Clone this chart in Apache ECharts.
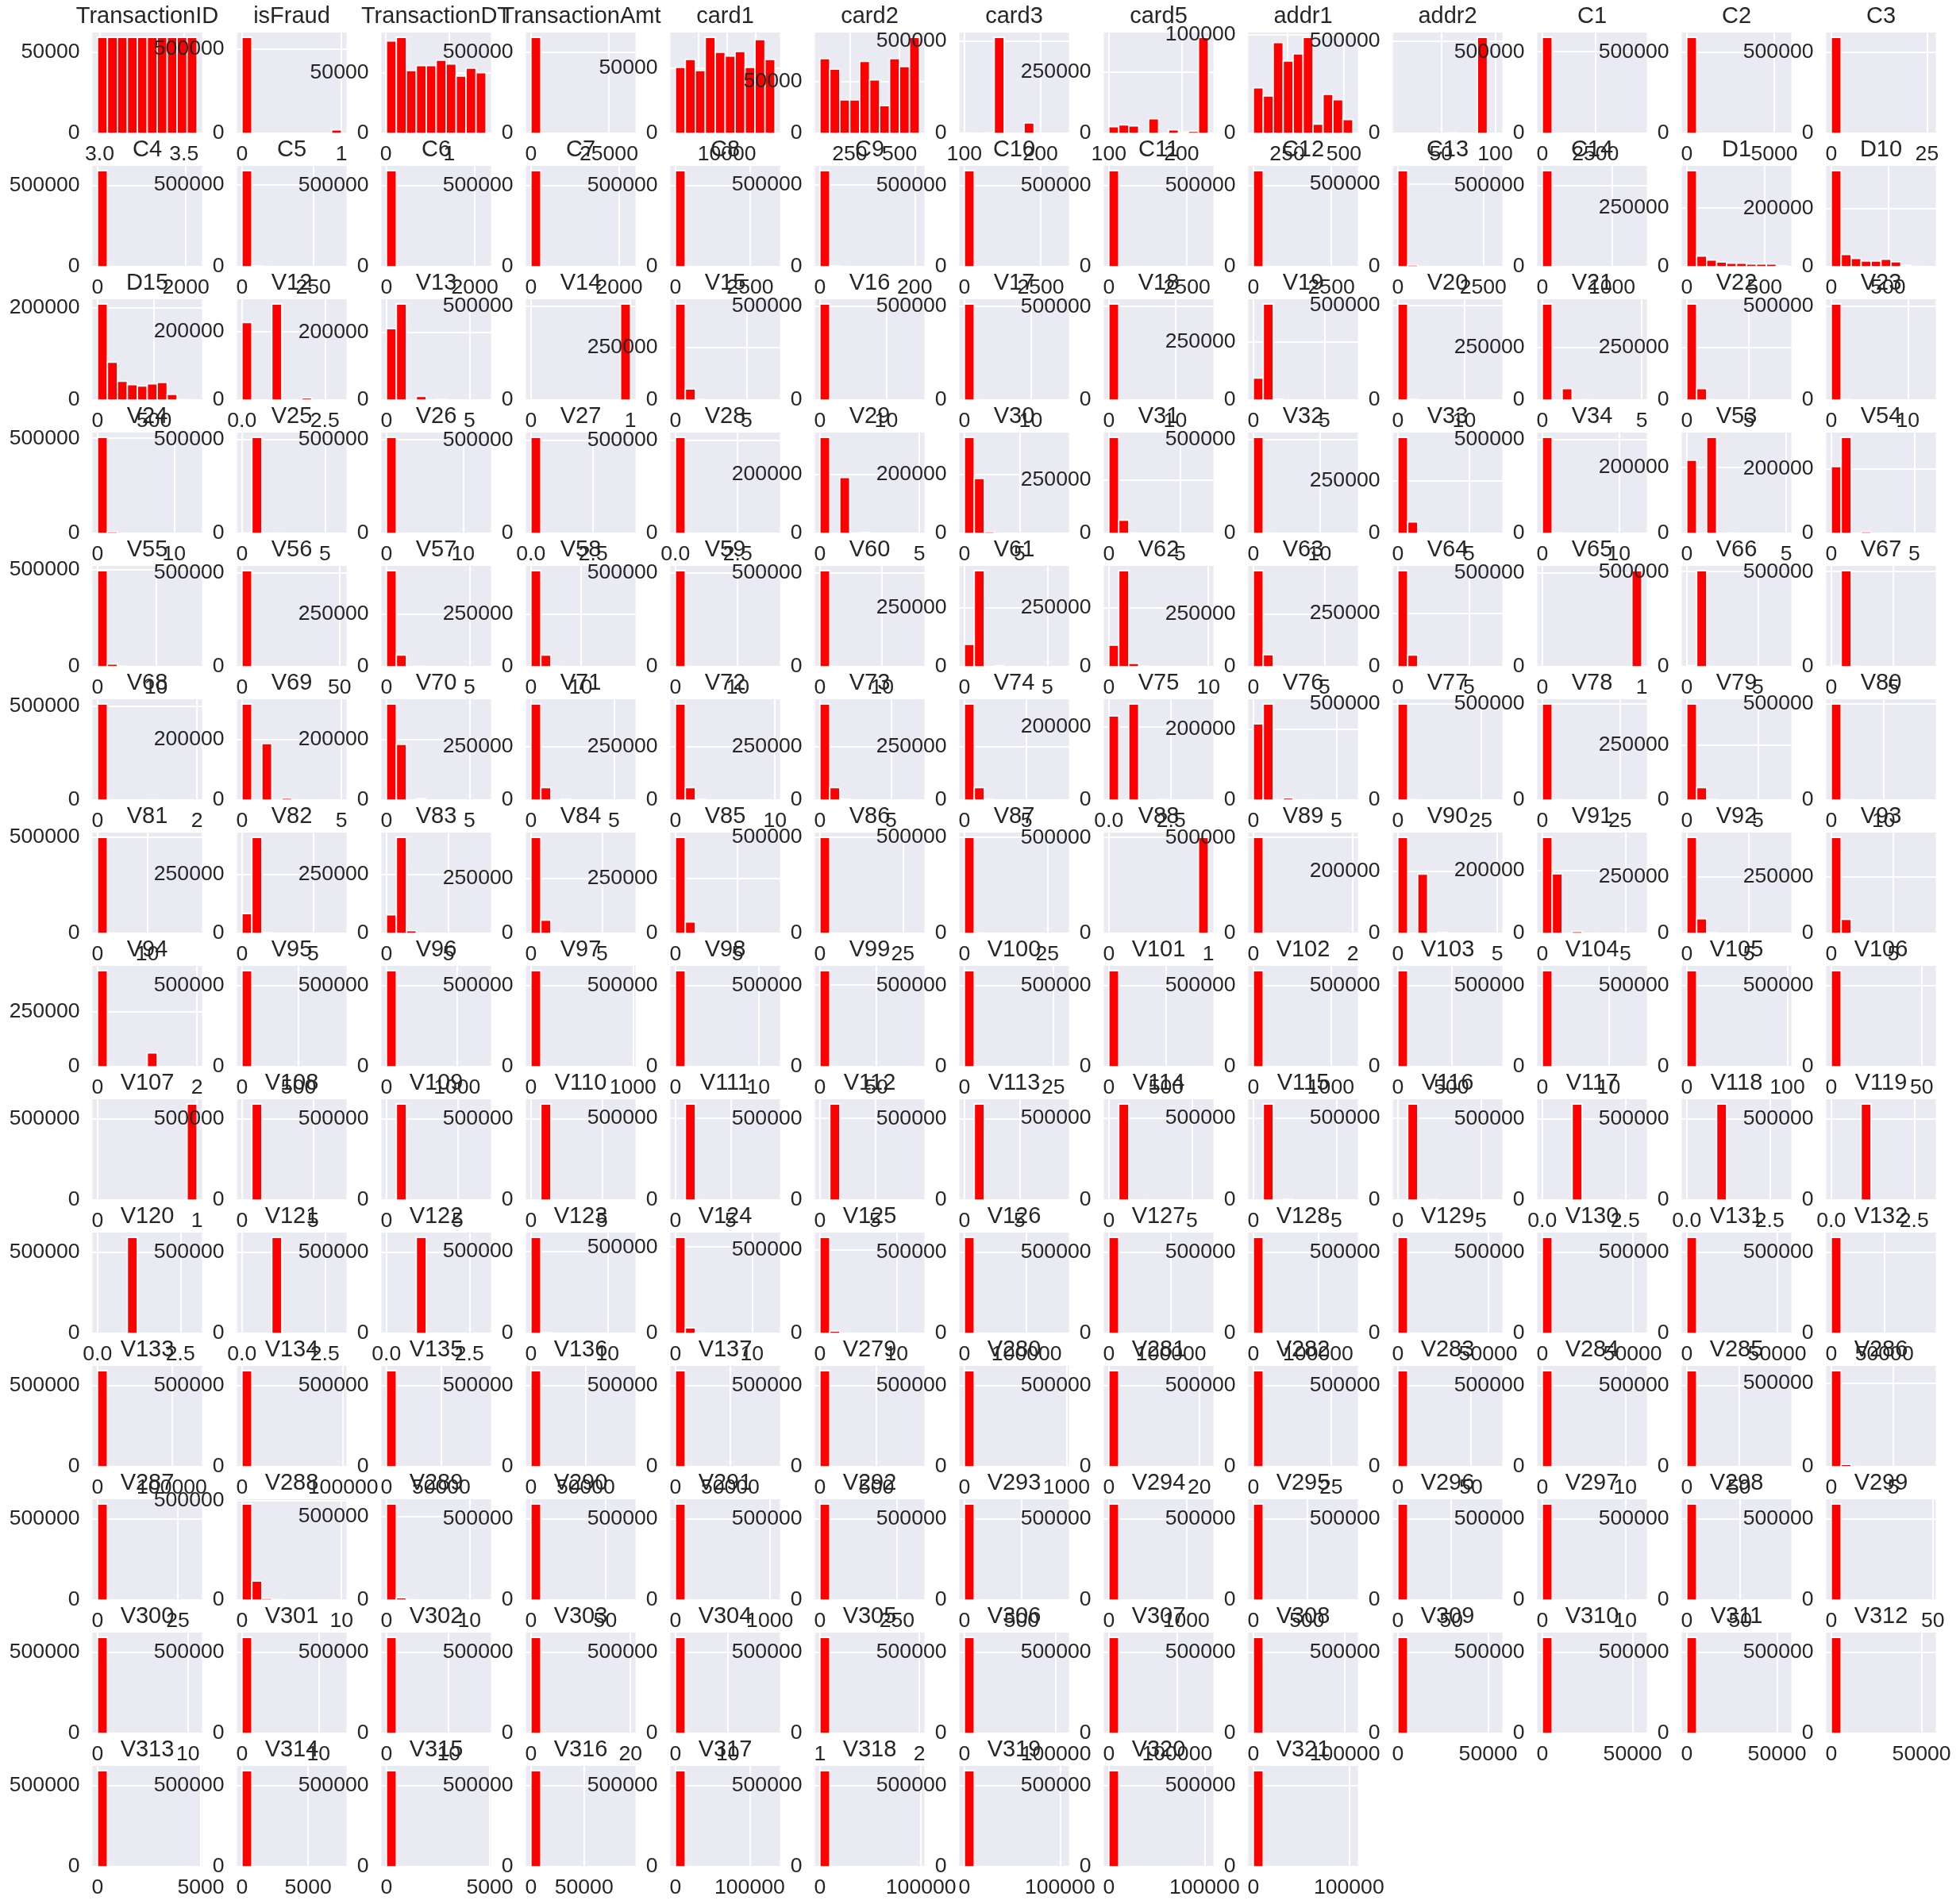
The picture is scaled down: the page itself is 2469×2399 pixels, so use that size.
<!DOCTYPE html>
<html>
<head>
<meta charset="utf-8">
<script src="https://cdn.jsdelivr.net/npm/echarts@6/dist/echarts.min.js"></script>
<style>
html,body{margin:0;padding:0;background:#ffffff;}
#chart{width:2469px;height:2399px;}
</style>
</head>
<body>
<div id="chart"></div>
<script>
// ---------------- DATA ----------------
const names = [
 "TransactionID","isFraud","TransactionDT","TransactionAmt","card1","card2","card3","card5","addr1","addr2","C1","C2","C3",
 "C4","C5","C6","C7","C8","C9","C10","C11","C12","C13","C14","D1","D10",
 "D15","V12","V13","V14","V15","V16","V17","V18","V19","V20","V21","V22","V23",
 "V24","V25","V26","V27","V28","V29","V30","V31","V32","V33","V34","V53","V54",
 "V55","V56","V57","V58","V59","V60","V61","V62","V63","V64","V65","V66","V67",
 "V68","V69","V70","V71","V72","V73","V74","V75","V76","V77","V78","V79","V80",
 "V81","V82","V83","V84","V85","V86","V87","V88","V89","V90","V91","V92","V93",
 "V94","V95","V96","V97","V98","V99","V100","V101","V102","V103","V104","V105","V106",
 "V107","V108","V109","V110","V111","V112","V113","V114","V115","V116","V117","V118","V119",
 "V120","V121","V122","V123","V124","V125","V126","V127","V128","V129","V130","V131","V132",
 "V133","V134","V135","V136","V137","V279","V280","V281","V282","V283","V284","V285","V286",
 "V287","V288","V289","V290","V291","V292","V293","V294","V295","V296","V297","V298","V299",
 "V300","V301","V302","V303","V304","V305","V306","V307","V308","V309","V310","V311","V312",
 "V313","V314","V315","V316","V317","V318","V319","V320","V321"
];

// data range (min, max) of each column, in the units shown on its x axis
const xRanges = [
 [2.987,3.577539],[0,1],[0.00864,1.5811131],[0.251,31937.391],[1000,18396],[100,600],[100,231],[100,237],[100,540],[10,102],[0,4685],[0,5691],[0,26],
 [0,2253],[0,349],[0,2253],[0,2255],[0,3331],[0,210],[0,3257],[0,3188],[0,3188],[0,2918],[0,1429],[0,640],[0,876],
 [0,879],[0,3],[0,6],[0,1],[0,7],[0,15],[0,15],[0,15],[0,7],[0,15],[0,5],[0,8],[0,13],
 [0,13],[0,6],[0,13],[0,4],[0,4],[0,5],[0,9],[0,7],[0,15],[0,7],[0,13],[0,5],[0,6],
 [0,17],[0,51],[0,6],[0,20],[0,16],[0,16],[0,6],[0,10],[0,7],[0,7],[0,1],[0,7],[0,8],
 [0,2],[0,5],[0,6],[0,6],[0,10],[0,7],[0,8],[0,4],[0,6],[0,30],[0,32],[0,7],[0,19],
 [0,20],[0,7],[0,8],[0,7],[0,8],[0,30],[0,30],[0,1],[0,2],[0,5],[0,6],[0,8],[0,8],
 [0,2],[0,880],[0,1410],[0,976],[0,12],[0,88],[0,28],[0,869],[0,1285],[0,928],[0,15],[0,99],[0,55],
 [0,1],[0,7],[0,7],[0,7],[0,9],[0,9],[0,9],[0,6],[0,6],[0,6],[0,3],[0,3],[0,3],
 [0,3],[0,3],[0,3],[0,13],[0,13],[0,13],[0,160000],[0,160000],[0,153600],[0,55125],[0,55125],[0,55125],[0,93736],
 [0,133915],[0,98476],[0,90750],[0,90750],[0,90750],[0,880],[0,975],[0,22],[0,32],[0,68],[0,12],[0,95],[0,8],
 [0,31],[0,10],[0,12],[0,67],[0,1055],[0,323],[0,869],[0,1286],[0,928],[0,93],[0,12],[0,93],[0,49],
 [0,11],[0,13],[0,16],[0,20],[0,19],[1,2],[0,108800],[0,145765],[0,108800],[0,55125],[0,55125],[0,55125],[0,55125],
 [0,4817.5],[0,7519.9],[0,4817.5],[0,93736],[0,134021],[0,98476],[0,104060],[0,104060],[0,104060]
];

// counts of the 10 histogram bins of each column
const binCounts = [
 [59054,59054,59054,59054,59054,59054,59054,59054,59054,59054],
 [569877,0,0,0,0,0,0,0,0,20663],
 [76550,79610,52050,56210,56210,60580,57520,47460,54020,50330],
 [589900,520,70,25,10,5,4,1,3,2],
 [50400,56500,48000,73400,61900,59100,62500,50400,71600,56500],
 [72165,61965,32385,32385,69615,51765,26775,72165,64515,92820],
 [1700,900,3000,521287,300,400,56346,600,400,40],
 [26700,34200,29900,200,58700,300,13900,5300,8500,389000],
 [46100,37900,91700,73100,80300,97100,9300,39500,33900,13900],
 [200,70,160,10,20,3200,10,30,520600,700],
 [588500,1100,400,200,120,80,60,40,20,20],
 [588900,900,350,150,90,60,40,20,20,10],
 [590400,100,20,10,5,3,0,0,1,1],
 // row 2
 [589600,500,200,100,60,30,20,10,10,10],
 [583000,5000,1500,600,300,100,30,5,3,2],
 [589000,900,300,150,80,50,30,15,10,5],
 [589700,450,200,90,40,30,15,10,5,5],
 [589600,500,200,110,60,30,20,10,5,5],
 [584000,4500,1500,400,100,30,10,3,1,1],
 [589300,700,250,120,70,50,25,15,5,5],
 [588800,1000,400,170,80,50,25,10,3,2],
 [589900,350,150,70,40,20,5,3,1,1],
 [578000,9500,1800,600,300,150,80,50,30,30],
 [589000,1000,300,120,60,30,15,10,3,2],
 [408600,45000,28000,20000,14600,14600,11300,11300,11300,4500],
 [331000,42000,28300,19200,19200,25600,16400,4600,1000,300],
 // row 3
 [208700,82200,40800,33400,30500,35100,38000,12100,1000,500],
 [227000,0,0,281000,0,0,6000,0,0,400],
 [212000,285000,0,11000,0,2000,500,0,200,100],
 [1000,0,0,0,0,0,0,0,0,513000],
 [458000,52000,3000,0,800,300,0,100,20,10],
 [513000,1000,200,50,20,10,5,2,1,1],
 [512500,1300,300,80,30,10,5,2,1,1],
 [513200,900,200,50,20,10,5,2,1,1],
 [94800,414500,4000,0,800,200,0,50,10,5],
 [508000,4500,1000,300,100,40,20,10,5,2],
 [458000,0,54000,0,1500,0,400,0,100,30],
 [458000,54000,1500,0,400,100,0,30,10,5],
 [510000,3000,800,300,100,50,20,10,5,2],
 // row 4
 [505000,9000,300,100,50,20,5,2,1,1],
 [2500,510000,0,1500,0,200,50,0,10,5],
 [513000,1000,200,50,20,5,2,1,1,1],
 [514000,0,0,400,0,0,0,5,0,2],
 [513800,0,0,600,0,0,0,10,0,2],
 [327000,0,190000,0,3000,0,300,0,50,10],
 [327000,187000,5400,500,100,30,10,5,2,1],
 [450000,62000,1500,300,0,100,30,0,10,5],
 [512000,1500,200,50,20,10,5,2,1,1],
 [458000,54000,1500,300,0,100,30,0,5,2],
 [512000,2000,300,50,20,10,5,2,1,1],
 [221700,0,291000,0,1000,0,200,0,30,10],
 [208000,299000,0,5000,0,800,200,0,30,10],
 // row 5
 [495000,13600,3000,800,300,100,50,20,10,5],
 [512000,1200,200,50,20,5,2,1,1,1],
 [456000,55000,0,2000,0,300,50,0,10,5],
 [456000,55000,2000,300,50,10,5,2,1,1],
 [511500,1500,300,80,30,10,5,2,1,1],
 [511800,1300,250,60,20,10,5,2,1,1],
 [94600,409000,0,4500,0,500,100,0,20,10],
 [92000,409000,13500,2000,300,100,30,10,5,2],
 [455000,57000,1500,300,100,30,10,5,2,1],
 [452000,55000,1500,300,100,30,10,5,2,1],
 [600,0,0,0,0,0,0,0,0,512800],
 [6000,505000,1500,300,100,30,10,5,2,1],
 [6000,505000,1800,400,100,30,10,5,2,1],
 // row 6
 [512000,0,0,0,0,1500,0,0,0,10],
 [318000,0,187000,0,6000,0,500,0,50,10],
 [318000,184000,0,4400,0,600,100,0,20,10],
 [450000,58000,0,4000,0,500,100,0,20,5],
 [450000,58000,4000,500,100,30,10,5,2,1],
 [450000,58000,4000,500,100,30,10,5,2,1],
 [450000,58000,4000,500,100,30,10,5,2,1],
 [230000,0,263000,0,0,1500,0,100,0,10],
 [215000,271000,0,6000,0,800,100,0,20,5],
 [498000,2000,500,100,30,10,5,2,1,1],
 [498500,1800,400,80,20,10,5,2,1,1],
 [436000,56000,3000,500,100,30,10,5,2,1],
 [498000,2200,500,100,30,10,5,2,1,1],
 // row 7
 [499000,1500,300,80,20,10,5,2,1,1],
 [84000,409000,3000,300,100,30,10,5,2,1],
 [79000,409000,11000,1000,200,50,20,5,2,1],
 [438000,60000,2500,300,100,30,10,5,2,1],
 [438000,52000,2500,300,100,30,10,5,2,1],
 [499000,1500,300,80,20,10,5,2,1,1],
 [498800,1600,350,90,20,10,5,2,1,1],
 [500,0,0,0,0,0,0,0,0,500800],
 [500800,0,0,0,0,500,0,0,0,10],
 [308000,0,190000,0,3000,0,300,0,50,10],
 [305000,189000,0,6000,0,800,100,0,20,5],
 [426000,64600,3000,500,100,30,10,5,2,1],
 [426000,62000,3000,500,100,30,10,5,2,1],
 // row 8
 [438000,0,0,0,0,63000,0,0,0,100],
 [589000,800,200,100,50,30,20,10,5,5],
 [588600,1100,250,120,60,40,20,10,5,5],
 [589300,600,150,80,40,20,10,5,3,2],
 [589500,500,120,50,20,10,5,2,1,1],
 [588200,1400,400,120,50,20,10,5,2,1],
 [589600,450,100,40,15,8,4,2,1,1],
 [589200,700,170,80,40,20,10,5,3,2],
 [588800,1000,250,110,50,25,12,6,3,2],
 [589300,600,150,80,40,20,10,5,3,2],
 [589700,400,80,25,10,5,2,1,1,1],
 [589000,900,200,70,30,12,6,3,1,1],
 [589800,300,70,25,10,5,2,1,1,1],
 // row 9
 [400,0,0,0,0,0,0,0,0,589800],
 [300,589000,600,200,70,30,15,6,3,2],
 [300,588700,800,250,100,40,20,8,3,2],
 [300,589100,500,180,70,30,15,6,3,2],
 [300,588000,1400,300,100,50,30,20,10,5],
 [300,588300,1200,250,90,40,20,10,5,3],
 [300,589200,500,130,50,20,10,5,3,2],
 [300,588000,0,1500,0,200,50,0,10,5],
 [300,584000,0,5000,0,500,100,0,20,5],
 [300,586000,0,3500,0,300,50,0,10,5],
 [200,0,0,589500,0,0,400,0,0,50],
 [200,0,0,589300,0,0,600,0,0,60],
 [200,0,0,589400,0,0,500,0,0,50],
 // row 10
 [200,0,0,589500,0,0,400,0,0,50],
 [200,0,0,589000,0,0,900,0,0,70],
 [200,0,0,589600,0,0,300,0,0,40],
 [584000,5000,800,200,50,20,10,5,2,1],
 [556000,32000,1500,400,100,30,10,5,2,1],
 [575000,13000,1500,400,100,30,10,5,2,1],
 [589800,300,60,20,10,5,2,1,1,1],
 [589600,450,90,30,12,6,3,1,1,1],
 [589900,250,40,15,8,4,2,1,1,1],
 [589500,500,120,50,20,10,5,2,1,1],
 [589700,380,80,30,12,6,3,1,1,1],
 [589600,450,100,40,15,8,4,2,1,1],
 [589900,240,50,15,7,3,2,1,1,1],
 // row 11
 [589800,300,60,20,10,5,2,1,1,1],
 [589700,380,80,30,12,6,3,1,1,1],
 [589950,200,40,15,7,3,2,1,1,1],
 [589950,200,40,15,7,3,2,1,1,1],
 [589950,200,40,15,7,3,2,1,1,1],
 [590000,350,90,40,20,10,6,3,2,1],
 [589600,600,160,70,35,15,8,4,2,1],
 [590200,250,50,15,6,3,2,1,1,1],
 [588600,1500,300,80,30,10,5,2,1,1],
 [589700,600,150,40,15,8,4,2,1,1],
 [590300,180,30,10,4,2,1,1,1,1],
 [588900,1200,300,80,25,10,5,2,1,1],
 [575000,13000,1800,500,150,50,20,5,2,1],
 // row 12
 [588800,1400,250,50,15,5,3,2,1,1],
 [484000,95000,8000,2500,700,200,80,30,10,5],
 [574000,13500,2200,600,150,50,20,5,2,1],
 [590200,250,50,15,6,3,2,1,1,1],
 [590100,320,70,20,8,4,2,1,1,1],
 [590000,380,90,30,12,6,3,1,1,1],
 [589900,450,110,40,15,7,3,1,1,1],
 [589800,520,140,45,15,5,2,1,1,1],
 [589000,1100,300,80,25,10,5,2,1,1],
 [590100,320,70,20,8,4,2,1,1,1],
 [590300,180,30,10,4,2,1,1,1,1],
 [589100,1000,300,80,25,10,5,2,1,1],
 [589800,600,90,20,8,4,2,1,1,1],
 // row 13
 [589900,500,90,25,8,3,2,1,1,1],
 [589800,600,90,25,8,3,2,1,1,1],
 [589600,750,120,35,12,5,2,1,1,1],
 [589400,900,160,45,15,5,2,1,1,1],
 [589300,1000,160,45,15,5,2,1,1,1],
 [590527,0,0,0,0,0,0,0,0,1],
 [590300,180,30,10,4,2,1,1,1,1],
 [590200,250,50,15,6,3,2,1,1,1],
 [590300,180,30,10,4,2,1,1,1,1],
 [590400,100,20,5,2,1,1,1,1,1],
 [590200,250,50,15,6,3,2,1,1,1],
 [590450,60,10,5,2,1,1,1,1,1],
 [590300,180,30,10,4,2,1,1,1,1],
 // row 14
 [590100,320,70,20,8,4,2,1,1,1],
 [590300,180,30,10,4,2,1,1,1,1],
 [590200,250,50,15,6,3,2,1,1,1],
 [590350,150,20,5,2,1,1,1,1,1],
 [590200,250,50,15,6,3,2,1,1,1],
 [590450,60,10,5,2,1,1,1,1,1],
 [590300,180,30,10,4,2,1,1,1,1],
 [590200,250,50,15,6,3,2,1,1,1],
 [590300,180,30,10,4,2,1,1,1,1]
];

// x tick labels of each panel
const xTickLabels = [
 ["3.0","3.5"],["0","1"],["0","1"],["0","25000"],["5000","10000","15000"],["250","500"],["100","200"],["100","200"],["250","500"],["50","100"],["0","2500"],["0","5000"],["0","25"],
 ["0","2000"],["0","250"],["0","2000"],["0","2000"],["0","2500"],["0","200"],["0","2500"],["0","2500"],["0","2500"],["0","2500"],["0","1000"],["0","500"],["0","500"],
 ["0","500"],["0.0","2.5"],["0","5"],["0","1"],["0","5"],["0","10"],["0","10"],["0","10"],["0","5"],["0","10"],["0","5"],["0","5"],["0","10"],
 ["0","10"],["0","5"],["0","10"],["0.0","2.5"],["0.0","2.5"],["0","5"],["0","5"],["0","5"],["0","10"],["0","5"],["0","10"],["0","5"],["0","5"],
 ["0","10"],["0","50"],["0","5"],["0","10"],["0","10"],["0","10"],["0","5"],["0","10"],["0","5"],["0","5"],["0","1"],["0","5"],["0","5"],
 ["0","2"],["0","5"],["0","5"],["0","5"],["0","10"],["0","5"],["0","5"],["0.0","2.5"],["0","5"],["0","25"],["0","25"],["0","5"],["0","10"],
 ["0","10"],["0","5"],["0","5"],["0","5"],["0","5"],["0","25"],["0","25"],["0","1"],["0","2"],["0","5"],["0","5"],["0","5"],["0","5"],
 ["0","2"],["0","500"],["0","1000"],["0","1000"],["0","10"],["0","50"],["0","25"],["0","500"],["0","1000"],["0","500"],["0","10"],["0","100"],["0","50"],
 ["0","1"],["0","5"],["0","5"],["0","5"],["0","5"],["0","5"],["0","5"],["0","5"],["0","5"],["0","5"],["0.0","2.5"],["0.0","2.5"],["0.0","2.5"],
 ["0.0","2.5"],["0.0","2.5"],["0.0","2.5"],["0","10"],["0","10"],["0","10"],["0","100000"],["0","100000"],["0","100000"],["0","50000"],["0","50000"],["0","50000"],["0","50000"],
 ["0","100000"],["0","100000"],["0","50000"],["0","50000"],["0","50000"],["0","500"],["0","1000"],["0","20"],["0","25"],["0","50"],["0","10"],["0","50"],["0","5"],
 ["0","25"],["0","10"],["0","10"],["0","50"],["0","1000"],["0","250"],["0","500"],["0","1000"],["0","500"],["0","50"],["0","10"],["0","50"],["0","50"],
 ["0","10"],["0","10"],["0","10"],["0","20"],["0","10"],["1","2"],["0","100000"],["0","100000"],["0","100000"],["0","50000"],["0","50000"],["0","50000"],["0","50000"],
 ["0","5000"],["0","5000"],["0","5000"],["0","50000"],["0","100000"],["0","100000"],["0","100000"],["0","100000"],["0","100000"]
];

// upper y tick of each panel (the lower one is 0)
const yTickTops = [
 50000,500000,50000,500000,50000,50000,500000,250000,100000,500000,500000,500000,500000,
 500000,500000,500000,500000,500000,500000,500000,500000,500000,500000,500000,250000,200000,
 200000,200000,200000,500000,250000,500000,500000,500000,250000,500000,250000,250000,500000,
 500000,500000,500000,500000,500000,200000,200000,250000,500000,250000,500000,200000,200000,
 500000,500000,250000,250000,500000,500000,250000,250000,250000,250000,500000,500000,500000,
 500000,200000,200000,250000,250000,250000,250000,200000,200000,500000,500000,250000,500000,
 500000,250000,250000,250000,250000,500000,500000,500000,500000,200000,200000,250000,250000,
 250000,500000,500000,500000,500000,500000,500000,500000,500000,500000,500000,500000,500000,
 500000,500000,500000,500000,500000,500000,500000,500000,500000,500000,500000,500000,500000,
 500000,500000,500000,500000,500000,500000,500000,500000,500000,500000,500000,500000,500000,
 500000,500000,500000,500000,500000,500000,500000,500000,500000,500000,500000,500000,500000,
 500000,500000,500000,500000,500000,500000,500000,500000,500000,500000,500000,500000,500000,
 500000,500000,500000,500000,500000,500000,500000,500000,500000,500000,500000,500000,500000,
 500000,500000,500000,500000,500000,500000,500000,500000,500000
];

// ---------------- LAYOUT / STYLE ----------------
const COLS = 13;
const PLOT_L0 = 116.5, COL_STEP = 182, PLOT_T0 = 41, ROW_STEP = 168, PW = 138, PH = 127;
const FONT = '"Liberation Sans", Arial, Helvetica, sans-serif';
const TXT = '#262626';
const TICK_FS = 26.6, TITLE_FS = 29;

const grid = [], xAxis = [], yAxis = [], series = [], texts = [];

names.forEach((name, k) => {
  const r = Math.floor(k / COLS), c = k % COLS;
  const left = PLOT_L0 + c * COL_STEP, top = PLOT_T0 + r * ROW_STEP;
  const lo = xRanges[k][0], hi = xRanges[k][1], span = hi - lo;
  const cnt = binCounts[k];
  const maxC = Math.max.apply(null, cnt);
  const xLabels = xTickLabels[k];
  const xVals = xLabels.map(Number);
  const yVals = [0, yTickTops[k]];
  const base = k * 10;

  grid.push({left: left, top: top, width: PW, height: PH, show: true,
    backgroundColor: '#EAEAF2', borderWidth: 0, z: base});

  xAxis.push({
    type: 'value', gridIndex: k, min: lo - 0.05 * span, max: hi + 0.05 * span, z: base + 1,
    axisLine: {show: false},
    axisTick: {show: false, customValues: xVals},
    axisLabel: {
      customValues: xVals,
      formatter: function (v) {
        for (let i = 0; i < xVals.length; i++) {
          if (Math.abs(xVals[i] - v) <= 1e-9 * Math.max(1, Math.abs(v))) return xLabels[i];
        }
        return '';
      },
      margin: 13, fontSize: TICK_FS, fontFamily: FONT, color: TXT, lineHeight: 27
    },
    splitLine: {show: true, lineStyle: {color: '#ffffff', width: 2}}
  });

  yAxis.push({
    type: 'value', gridIndex: k, min: 0, max: maxC * 1.05, z: base + 1,
    axisLine: {show: false},
    axisTick: {show: false, customValues: yVals},
    axisLabel: {
      customValues: yVals,
      formatter: function (v) { return String(v); },
      margin: 16, fontSize: TICK_FS, fontFamily: FONT, color: TXT
    },
    splitLine: {show: true, lineStyle: {color: '#ffffff', width: 2}}
  });

  series.push({
    type: 'custom', xAxisIndex: k, yAxisIndex: k, z: base + 2, silent: true, animation: false,
    encode: {x: [0, 1], y: 2},
    data: cnt.map(function (v, i) { return [lo + span * i / 10, lo + span * (i + 1) / 10, v]; }),
    renderItem: function (params, api) {
      const v = api.value(2);
      if (!(v > 0)) return null;
      const a = api.coord([api.value(0), 0]);
      const b = api.coord([api.value(1), v]);
      return {
        type: 'rect',
        shape: {x: a[0], y: b[1], width: b[0] - a[0], height: a[1] - b[1]},
        style: {fill: '#ff0000', stroke: '#ffffff', lineWidth: 1.7}
      };
    }
  });

  texts.push({
    type: 'text', x: left + PW / 2, y: top - 20, z: base + 3, silent: true,
    style: {text: name, fill: TXT, font: TITLE_FS + 'px ' + FONT,
      textAlign: 'center', textVerticalAlign: 'middle', align: 'center', verticalAlign: 'middle'}
  });
});

const chart = echarts.init(document.getElementById('chart'), null, {renderer: 'canvas'});
chart.setOption({
  animation: false,
  backgroundColor: '#ffffff',
  grid: grid,
  xAxis: xAxis,
  yAxis: yAxis,
  series: series,
  graphic: {elements: texts}
});
</script>
</body>
</html>
